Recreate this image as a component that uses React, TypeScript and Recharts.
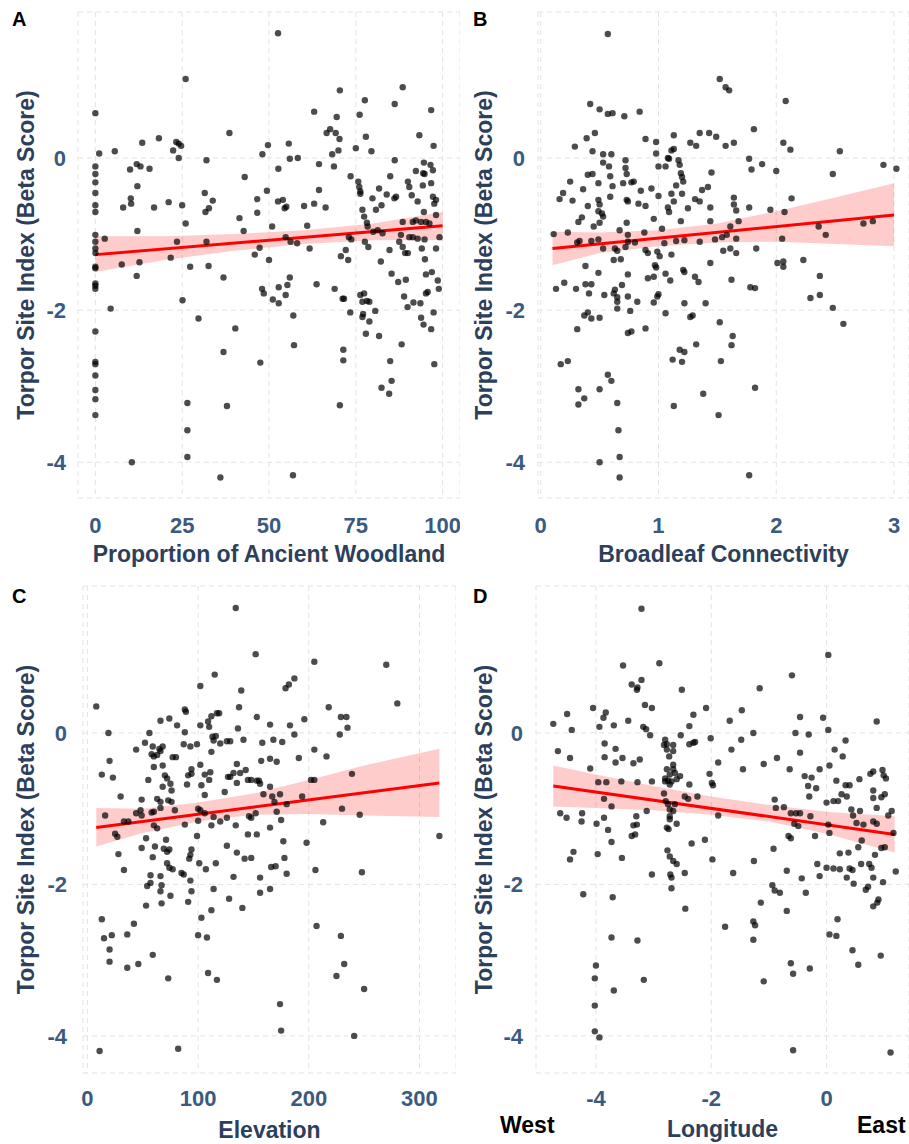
import React from 'react';
import { ComposedChart, Scatter, Line, Area, XAxis, YAxis, CartesianGrid } from 'recharts';

type Pt = [number, number];
type Band = [number, number, number]; // x, lower, upper

// A: proportion of ancient woodland
const woodlandPoints: Pt[] = [
  [0, 0.59], [1.1, 0.06], [0, -0.11], [0, -0.21], [0, -0.32], [0, -0.46], [0, -0.62], [0, -0.71], [0, -1.01], [0, -1.1], [0, -1.19], [0, -1.25], [0, -1.43],
  [5.6, 0.09], [13.5, 0.2], [18.3, 0.26], [23.3, 0.21], [24, 0.19], [24.7, 0.16], [22.4, 0.1], [24, 0], [26, 1.04], [38.6, 0.33],
  [10, -0.15], [11.9, -0.08], [13, -0.11], [15.6, -0.14], [12.1, -0.37], [10.2, -0.53], [10.3, -0.6], [8, -0.65], [16.9, -0.65], [21.1, -0.58], [25, -0.62], [26, -0.86], [12.1, -0.96], [2.7, -1.06], [23.5, -1.1], [32, -1.1],
  [31.5, -0.46], [33.8, -0.56], [32.7, -0.66], [31.7, -0.71], [32, -0.03], [43, -0.25], [49.4, -0.43], [48.1, 0.05], [49.7, 0.17], [41.5, -0.79], [42.7, -0.96], [46.6, -0.54], [46.6, -0.72], [47.3, -1.18], [45.9, -1.27],
  [7.6, -1.4], [12.7, -1.37], [21.7, -1.31], [27.3, -1.43], [32.6, -1.42], [50, -1.34],
  [0, -1.45], [11.9, -1.55], [36.9, -1.57], [0, -1.65], [0, -1.68], [0, -1.72], [48, -1.72], [48.5, -1.78], [4.4, -1.98], [25.1, -1.87], [0, -2.28], [29.7, -2.11], [40.3, -2.24], [36.9, -2.55], [47.5, -2.69],
  [0, -2.68], [0, -2.71], [0, -2.86], [0, -3.05], [0, -3.17], [0, -3.38], [26.5, -3.22], [37.9, -3.26], [26.5, -3.58], [26.5, -3.93], [10.5, -4.0], [36, -4.2],
  [52.6, 1.64], [52.7, -0.14], [52.6, -0.57], [54, -0.55], [54.5, -0.66], [55, -0.64], [55.7, 0.19], [56, -0.01], [58.3, 0], [50.9, -0.9], [54.8, -1.04], [56.2, -1.1], [58.1, -1.12], [61, -0.89], [61.7, -1.19],
  [60.1, -0.63], [63, -0.6], [66.3, -0.65], [64.4, -0.42], [64.4, -0.08], [63, 0.61], [66.6, 0.33], [67.6, 0.38], [69.2, 0.33], [70.3, 0.25], [69.5, 0.54], [70.4, 0.89], [68.2, 0.05], [70, 0.1], [68.7, -0.11],
  [73.5, -0.24], [75.7, -0.31], [76, -0.38], [76.3, -0.44], [76.3, -0.47], [75, 0.13], [76.1, 0.57], [77.6, 0.76], [77.9, 0.28], [79.5, 0.09], [76.9, -0.68], [77.4, -0.77], [78.2, -0.85], [78.4, -0.9],
  [79.8, -0.53], [80.8, -0.68], [82.4, -0.62], [81.7, -0.4], [83.9, -0.48], [86.1, -0.53], [86.6, -0.51], [84.9, -0.24], [86.2, -0.03], [86.2, 0.71], [88.5, 0.93], [90, -0.31], [90.4, -0.38], [91.1, -0.49], [92.8, -0.57],
  [92.3, -0.17], [93.3, 0.3], [94.6, -0.06], [94.8, -0.21], [94.4, -0.2], [96.5, -0.09], [97.2, -0.16], [96.7, 0.63], [97.4, 0.16], [96.7, -0.33], [94.3, -0.36], [97.2, -0.51], [97.6, -0.6], [98.1, -0.55], [94.6, -0.71],
  [88.5, -0.84], [91.4, -0.84], [92.3, -0.82], [93.8, -0.84], [95.2, -0.84], [96.2, -0.86], [98.1, -0.75], [88, -1.01], [90.4, -1.04], [91.4, -1.04], [92.8, -1.06], [94.8, -1.07], [99.1, -1.04],
  [87.5, -1.1], [88.5, -1.17], [89.2, -1.25], [90, -1.25], [84.7, -1.21], [94, -1.19], [94.9, -1.33], [98.1, -1.19], [82.2, -1.36], [70.7, -1.29], [72.1, -1.21], [72.8, -1.34], [73, -1.04], [73.7, -1.07],
  [77.6, -1.1], [78.6, -1.17], [80, -0.97], [81.3, -0.95], [82.7, -0.99],
  [51.1, -1.86], [52.8, -1.91], [52.8, -1.7], [54.8, -1.8], [55.3, -1.67], [56, -1.57], [57, -2.07], [57.2, -2.46], [63.7, -1.66], [68.9, -1.72], [71.2, -1.85], [71.6, -1.85], [73.4, -2.03], [71.4, -2.52], [71.4, -2.66], [70.4, -3.25],
  [76.3, -1.8], [77.4, -1.78], [76.9, -1.89], [78.2, -1.88], [78.9, -1.89], [76.9, -2.09], [77.1, -2.05], [78.9, -2.15], [77.9, -2.31], [80.6, -2.01], [81.7, -2.34],
  [85.3, -1.52], [87.2, -1.63], [89.4, -1.6], [88.9, -1.82], [89.9, -1.96], [91.6, -1.9], [93.6, -1.91], [88.2, -2.45], [84.9, -2.67], [85.3, -2.93], [82.4, -3.02], [84.6, -3.1],
  [93.8, -2.1], [94.5, -2.19], [96.7, -2.25], [97.4, -2.03], [95.2, -1.78], [95.7, -1.76], [95.2, -1.53], [96.9, -1.5], [98.6, -1.61], [98.9, -1.72], [97.6, -2.71], [56.9, -4.17],
];
const woodlandFit: Pt[] = [[0, -1.27], [100, -0.89]];
const woodlandBand: Band[] = [
  [0, -1.5, -1.03], [20, -1.34, -1.03], [40, -1.22, -1.0], [60, -1.13, -0.95], [80, -1.08, -0.86], [100, -1.08, -0.71],
];

// B: broadleaf connectivity
const connectivityPoints: Pt[] = [
  [0.57, 1.63], [1.52, 1.04], [1.57, 0.93], [1.6, 0.89], [2.08, 0.75], [0.42, 0.71], [0.5, 0.64], [0.57, 0.58], [0.61, 0.59], [0.71, 0.55], [0.84, 0.61], [1.81, 0.38],
  [0.39, 0.26], [0.46, 0.33], [0.29, 0.15], [0.44, 0.09], [0.53, 0.05], [0.6, 0.05], [0.89, 0.25], [0.98, 0.21], [0.98, 0.06], [1.13, 0.3], [1.13, 0.12], [1.11, 0.1], [1.08, 0], [1.09, -0.01],
  [1.27, 0.2], [1.32, 0.16], [1.35, 0.33], [1.43, 0.33], [1.49, 0.28], [1.57, 0.16], [1.64, 0.2], [2.06, 0.2], [2.12, 0.11], [2.54, 0.09], [1.77, -0.01], [1.79, -0.15], [1.88, -0.08], [2.0, -0.17], [2.48, -0.21], [2.91, -0.09], [3.02, -0.14],
  [0.53, -0.06], [0.58, -0.11], [0.59, -0.24], [0.72, -0.03], [0.72, -0.13], [0.73, -0.21], [0.4, -0.22], [0.44, -0.21], [0.25, -0.31], [0.49, -0.33], [0.36, -0.41], [0.19, -0.46], [0.16, -0.54], [0.27, -0.56],
  [0.61, -0.37], [0.7, -0.33], [0.77, -0.32], [0.79, -0.31], [0.85, -0.43], [0.59, -0.51], [0.49, -0.55], [0.5, -0.61], [0.4, -0.63], [0.49, -0.7], [0.52, -0.73], [0.73, -0.55], [0.74, -0.57], [0.83, -0.6], [0.89, -0.63],
  [0.94, -0.4], [1.0, -0.5], [1.0, -0.11], [1.06, -0.11], [1.17, -0.03], [1.18, -0.09], [1.19, -0.2], [1.2, -0.25], [1.21, -0.31], [1.2, -0.47], [1.15, -0.36], [1.11, -0.47], [1.13, -0.57], [1.08, -0.65], [1.09, -0.71],
  [1.25, -0.66], [1.31, -0.54], [1.35, -0.57], [1.37, -0.42], [1.42, -0.38], [1.45, -0.19], [1.44, -0.65], [1.64, -0.52], [1.64, -0.61], [1.66, -0.69], [1.77, -0.65], [1.95, -0.68], [2.07, -0.71], [2.13, -0.53],
  [1.44, -0.83], [1.61, -0.9], [1.68, -0.83], [1.19, -0.83], [0.96, -0.8], [1.03, -0.93], [0.73, -0.85], [0.67, -0.95], [0.74, -1.01], [0.5, -0.85], [0.53, -0.77], [0.32, -0.84], [0.35, -0.78], [0.45, -0.9],
  [0.11, -1.0], [0.23, -0.98], [0.31, -1.11], [0.33, -1.09], [0.43, -1.09], [0.49, -1.07], [0.53, -1.19], [0.63, -1.19], [0.65, -1.22], [0.72, -1.17], [0.74, -1.1], [0.8, -1.11], [0.88, -0.98],
  [0.89, -1.21], [0.91, -1.25], [0.99, -1.23], [1.01, -1.29], [1.05, -1.12], [1.11, -1.27], [1.15, -1.09], [1.22, -1.08], [1.35, -1.1], [1.48, -1.07], [1.54, -1.04], [1.58, -1.01], [1.66, -1.06],
  [1.55, -1.22], [1.61, -1.19], [1.66, -1.25], [1.83, -1.19], [2.05, -1.06], [2.36, -0.9], [2.42, -1.01], [2.74, -0.86], [2.82, -0.83],
  [0.38, -1.42], [0.62, -1.34], [0.68, -1.33], [0.97, -1.41], [0.98, -1.44], [1.21, -1.47], [1.44, -1.38], [2.01, -1.38], [2.06, -1.36], [2.06, -1.43], [2.23, -1.34],
  [0.13, -1.72], [0.2, -1.64], [0.3, -1.72], [0.38, -1.66], [0.43, -1.66], [0.49, -1.51], [0.41, -1.78], [0.54, -1.8], [0.62, -1.78], [0.63, -1.73], [0.65, -1.83], [0.65, -1.89], [0.65, -1.98], [0.69, -1.67],
  [0.74, -1.53], [0.74, -1.82], [0.76, -2.01], [0.82, -1.89], [0.37, -2.07], [0.4, -2.03], [0.43, -2.11], [0.5, -2.1], [0.31, -2.25], [0.74, -2.3], [0.77, -2.28], [0.89, -2.24], [0.91, -1.58], [0.96, -1.56],
  [0.96, -1.9], [0.99, -1.82], [1.0, -1.79], [1.06, -1.52], [1.1, -1.61], [1.06, -2.04], [1.22, -1.5], [1.31, -1.56], [1.34, -1.63], [1.22, -1.91], [1.4, -1.91], [1.27, -2.09], [1.29, -2.07], [1.32, -2.45],
  [1.18, -2.52], [1.22, -2.55], [1.12, -2.65], [1.2, -2.68], [1.13, -3.26], [1.38, -3.1], [1.51, -3.38], [1.52, -2.16], [1.53, -2.67], [1.62, -1.6], [1.63, -2.34], [1.62, -2.46], [1.78, -1.7], [1.82, -1.71],
  [1.82, -3.02], [1.77, -4.17], [2.37, -1.55], [2.37, -1.8], [2.29, -1.84], [2.48, -1.97], [2.57, -2.18], [0.17, -2.71], [0.23, -2.67], [0.32, -3.04], [0.37, -3.16], [0.32, -3.24], [0.5, -3.04],
  [0.57, -2.85], [0.6, -2.93], [0.65, -3.22], [0.66, -3.58], [0.67, -3.93], [0.67, -4.2], [0.5, -4.0],
];
const connectivityFit: Pt[] = [[0.1, -1.19], [3.0, -0.75]];
const connectivityBand: Band[] = [
  [0.1, -1.41, -0.97], [0.5, -1.25, -0.98], [1.0, -1.16, -0.95], [1.5, -1.11, -0.86], [2.0, -1.1, -0.7], [2.5, -1.13, -0.52], [3.0, -1.16, -0.33],
];

// C: elevation
const elevationPoints: Pt[] = [
  [134, 1.65], [152, 1.04], [205, 0.94], [270, 0.9], [115, 0.77], [102, 0.62], [139, 0.56], [179, 0.59], [182, 0.64], [187, 0.72], [8, 0.35], [137, 0.34], [218, 0.34], [280, 0.39],
  [88, 0.31], [89, 0.28], [112, 0.22], [117, 0.26], [119, 0.26], [153, 0.21], [66, 0.16], [74, 0.19], [81, 0.1], [102, 0.1], [109, 0.15], [110, 0.08], [136, 0.06], [165, 0.11], [183, 0.1], [196, 0.18],
  [229, 0.21], [234, 0.21], [235, 0.07], [228, -0.02], [19, 0], [56, 0], [88, 0.01], [113, -0.05], [114, -0.1], [116, -0.04], [120, -0.14], [126, -0.11], [129, -0.11], [141, -0.09], [158, -0.13],
  [168, -0.09], [176, -0.12], [187, -0.02], [52, -0.13], [44, -0.22], [59, -0.18], [65, -0.21], [68, -0.18], [66, -0.24], [87, -0.15], [93, -0.18], [99, -0.15], [58, -0.28], [60, -0.31], [63, -0.29],
  [77, -0.32], [80, -0.32], [112, -0.25], [205, -0.22], [216, -0.31], [191, -0.33], [20, -0.37], [13, -0.55], [23, -0.59], [60, -0.45], [68, -0.43], [55, -0.62], [70, -0.56], [72, -0.6], [75, -0.67],
  [68, -0.71], [76, -0.76], [94, -0.48], [94, -0.54], [91, -0.56], [90, -0.68], [102, -0.42], [106, -0.55], [111, -0.52], [110, -0.62], [103, -0.69], [106, -0.82], [127, -0.58], [129, -0.58], [132, -0.53],
  [135, -0.41], [135, -0.66], [138, -0.53], [143, -0.49], [145, -0.62], [148, -0.62], [153, -0.63], [155, -0.63], [156, -0.67], [157, -0.37], [165, -0.34], [171, -0.38], [165, -0.71], [124, -0.78],
  [159, -0.81], [167, -0.84], [174, -0.81], [202, -0.62], [205, -0.62], [239, -0.54], [30, -0.84], [49, -0.88], [63, -0.87], [66, -0.91], [73, -0.89], [76, -0.91], [44, -1.06], [48, -1.02], [58, -1.05],
  [60, -1.04], [66, -0.99], [79, -1.02], [100, -1.0], [102, -1.02], [106, -1.06], [114, -1.11], [120, -1.17], [126, -1.12], [134, -1.22], [146, -1.1], [148, -1.12], [152, -1.06], [169, -0.91],
  [171, -1.04], [175, -1.15], [180, -0.94], [165, -1.25], [194, -0.84], [230, -1.0], [246, -1.08], [213, -1.18], [16, -1.09], [33, -1.17], [37, -1.17], [49, -1.09], [60, -1.22], [63, -1.26],
  [25, -1.33], [27, -1.37], [88, -1.21], [100, -1.16], [99, -1.36], [112, -1.22], [145, -1.34], [153, -1.34], [53, -1.39], [71, -1.41], [49, -1.52], [61, -1.5], [69, -1.53], [74, -1.54], [28, -1.6],
  [59, -1.64], [72, -1.57], [94, -1.54], [93, -1.61], [92, -1.66], [126, -1.49], [135, -1.58], [142, -1.66], [148, -1.65], [177, -1.43], [178, -1.65], [198, -1.45], [318, -1.36], [33, -1.81],
  [57, -1.88], [66, -1.89], [72, -1.72], [74, -1.78], [77, -1.8], [85, -1.85], [87, -1.87], [101, -1.72], [107, -1.8], [116, -1.72], [132, -1.9], [156, -1.91], [166, -1.77], [170, -1.76], [180, -1.86],
  [206, -1.81], [248, -1.84], [57, -1.98], [54, -2.02], [67, -2.01], [66, -2.09], [53, -2.28], [67, -2.25], [75, -2.15], [93, -1.95], [94, -2.09], [91, -2.23], [114, -2.06], [156, -2.11], [165, -2.06],
  [128, -2.19], [140, -2.31], [112, -2.34], [103, -2.44], [100, -2.67], [108, -2.7], [13, -2.46], [42, -2.52], [15, -2.71], [22, -2.67], [36, -2.66], [20, -2.86], [20, -3.02], [36, -3.1], [46, -3.05],
  [59, -2.93], [73, -3.24], [109, -3.17], [117, -3.26], [207, -2.55], [229, -2.68], [232, -3.05], [225, -3.21], [250, -3.38], [174, -3.58], [175, -3.93], [241, -4.0], [11, -4.2], [82, -4.17],
];
const elevationFit: Pt[] = [[8, -1.25], [318, -0.66]];
const elevationBand: Band[] = [
  [8, -1.5, -0.99], [50, -1.32, -1.0], [100, -1.17, -0.92], [150, -1.08, -0.8], [200, -1.07, -0.62], [250, -1.09, -0.43], [318, -1.11, -0.21],
];

// D: longitude
const longitudePoints: Pt[] = [
  [-3.21, 1.64], [0.03, 1.03], [-3.53, 0.89], [-2.9, 0.92], [-0.6, 0.76], [-3.38, 0.64], [-3.29, 0.57], [-3.28, 0.6], [-3.21, 0.7], [-2.51, 0.57], [-1.16, 0.59], [-4.5, 0.25], [-4.05, 0.33],
  [-3.15, 0.37], [-3.03, 0.33], [-2.09, 0.33], [-1.47, 0.3], [-1.68, 0.16], [-3.83, 0.27], [-3.87, 0.2], [-3.44, 0.16], [-2.31, 0.24], [-0.46, 0.21], [-0.06, 0.2], [0.87, 0.15], [-4.74, 0.12],
  [-4.42, 0.04], [-3.94, 0.08], [-3.69, 0.1], [-3.18, 0.08], [-3.13, 0.05], [-3.06, -0.03], [-2.38, 0.09], [-2.53, -0.03], [-2.01, -0.07], [-1.48, -0.09], [-1.27, 0], [-0.54, 0], [-0.31, -0.02],
  [0.03, 0.04], [0.33, -0.1], [-4.66, -0.24], [-4.45, -0.33], [-3.85, -0.14], [-3.66, -0.21], [-3.85, -0.32], [-3.66, -0.39], [-3.54, -0.33], [-3.35, -0.4], [-3.24, -0.35],
  [-2.8, -0.09], [-2.77, -0.15], [-2.82, -0.16], [-2.66, -0.16], [-2.77, -0.22], [-2.66, -0.24], [-2.73, -0.31], [-2.66, -0.42], [-2.72, -0.55], [-2.63, -0.53], [-2.8, -0.6], [-2.75, -0.63],
  [-2.69, -0.64], [-2.8, -0.64], [-2.72, -0.68], [-2.6, -0.61], [-2.54, -0.57], [-2.77, -0.48], [-2.66, -0.48], [-2.38, -0.15], [-2.31, -0.13], [-2.28, -0.12], [-1.88, -0.39], [-1.65, -0.22],
  [-1.45, -0.48], [-1.09, -0.41], [-0.86, -0.33], [-0.64, -0.48], [-0.46, -0.26], [-0.12, -0.48], [0.05, -0.43], [0.14, -0.22], [0.28, -0.31], [-0.38, -0.57], [-0.26, -0.59], [-0.32, -0.7],
  [-0.18, -0.73], [-0.3, -0.84], [0.17, -0.63], [0.33, -0.69], [0.4, -0.69], [0.57, -0.61], [0.76, -0.54], [0.81, -0.51], [0.97, -0.49], [0.99, -0.56], [1.03, -0.6], [0.81, -0.76], [1.01, -0.81],
  [0.95, -0.85], [0.81, -0.86], [0.87, -0.99], [0, -0.92], [0.12, -0.9], [0.2, -0.9], [0.26, -0.81], [0.35, -0.84], [0.43, -1.01], [0.58, -1.03], [1.07, -1.09], [1.13, -1.03], [0.46, -1.09],
  [0.52, -1.19], [0.81, -1.17], [0.87, -1.2], [0.64, -1.21], [1.16, -1.32], [0.61, -1.42], [0.55, -1.51], [0.95, -1.52], [1.01, -1.51], [0.23, -1.59], [0.38, -1.58], [0.84, -1.61], [-0.16, -1.73],
  [0, -1.78], [0.12, -1.79], [0.23, -1.8], [0.4, -1.79], [0.45, -1.81], [0.6, -1.73], [0.74, -1.73], [0.78, -1.78], [1.2, -1.83], [-0.9, -0.88], [-0.88, -0.99], [-0.74, -0.98], [-0.62, -1.06],
  [-0.53, -1.06], [-0.46, -1.06], [-0.49, -1.23], [-0.56, -1.2], [-0.28, -1.1], [-0.2, -1.36], [-0.66, -1.36], [-0.62, -1.39], [0.03, -1.21], [0.05, -1.32], [-0.92, -1.53], [-0.69, -1.82],
  [-1.26, -1.69], [-1.62, -1.85], [-1.88, -1.09], [-2.11, -1.41], [-1.98, -1.67], [-2.34, -1.46], [-2.38, -0.68], [-2.24, -0.84], [-2.46, -0.84], [-2.4, -0.87], [-2.03, -0.54], [-1.99, -0.66],
  [-1.97, -0.69], [-2.82, -0.8], [-2.79, -0.9], [-2.75, -0.94], [-2.72, -1.01], [-2.66, -1.03], [-2.63, -0.94], [-2.72, -1.1], [-2.72, -1.14], [-2.6, -1.2], [-2.77, -1.25], [-2.74, -1.27],
  [-2.76, -1.55], [-2.72, -1.63], [-2.66, -1.69], [-2.6, -1.73], [-3.03, -1.87], [-2.71, -1.87], [-2.69, -1.91], [-2.46, -1.85], [-3.12, -1.03], [-3.3, -1.1], [-3.29, -1.21], [-3.38, -1.36],
  [-3.32, -1.34], [-3.35, -1.22], [-3.55, -1.65], [-3.73, -1.44], [-3.79, -1.28], [-3.86, -0.87], [-3.86, -1.12], [-3.99, -1.2], [-3.96, -0.65], [-3.82, -0.65], [-3.73, -0.97], [-3.56, -0.64],
  [-3.28, -0.65], [-3.03, -0.64], [-4.1, -0.47], [-4.62, -1.06], [-4.51, -1.12], [-4.24, -1.06], [-4.25, -1.17], [-3.97, -1.6], [-4.39, -1.57], [-4.45, -1.67],
  [-2.69, -2.05], [-2.45, -2.32], [-4.22, -2.13], [-3.71, -2.17], [-3.73, -2.7], [-3.28, -2.74], [-4.0, -3.07], [-4.02, -3.24], [-3.69, -3.4], [-4.02, -3.6], [-4.02, -3.94], [-3.94, -4.02],
  [-3.17, -3.26], [-1.76, -2.56], [-1.27, -2.49], [-1.24, -2.54], [-1.27, -2.73], [-1.14, -2.24], [-1.09, -3.28], [-0.94, -2.01], [-0.9, -2.08], [-0.81, -2.11], [-0.69, -2.35], [-0.43, -1.92],
  [-0.36, -2.11], [-0.12, -1.89], [-0.62, -3.04], [-0.58, -3.18], [-0.29, -3.11], [-0.58, -4.19], [0.05, -2.66], [0.17, -2.68], [0.19, -2.46], [0.35, -1.91], [0.47, -1.99], [0.68, -2.07],
  [0.72, -2.03], [0.81, -1.91], [0.98, -1.97], [0.81, -2.29], [0.88, -2.24], [0.9, -2.2], [0.45, -2.87], [0.55, -3.06], [0.94, -2.94], [1.11, -4.22],
];
const longitudeFit: Pt[] = [[-4.74, -0.7], [1.18, -1.34]];
const longitudeBand: Band[] = [
  [-4.74, -0.97, -0.43], [-4, -0.99, -0.55], [-3, -1.02, -0.7], [-2, -1.08, -0.84], [-1, -1.17, -0.95], [0, -1.33, -1.04], [1.18, -1.58, -1.1],
];

const yTicks = [-4, -2, 0];
const Y_TITLE = 'Torpor Site Index (Beta Score)';

const FONT = '"Liberation Sans", Arial, Helvetica, sans-serif';
const TICK_COLOUR = '#3a5a80';
const TITLE_COLOUR = '#2c405c';

const Dot = (props: any) => (
  <circle cx={props.cx} cy={props.cy} r={3.2} fill="#000" fillOpacity={0.7} />
);

interface PanelProps {
  left: number;
  top: number;
  width: number;
  height: number;
  marginTop: number;
  yAxisWidth: number;
  xAxisHeight: number;
  xDomain: [number, number];
  yDomain: [number, number];
  xTicks: number[];
  xTitle: string;
  xTickMargin: number;
  yTickMargin: number;
  xTitleOffset: number;
  yTitleOffset: number;
  points: Pt[];
  fit: Pt[];
  band: Band[];
}

function Panel(p: PanelProps) {
  const pts = p.points.map(([x, y]) => ({ x, y }));
  const fit = p.fit.map(([x, y]) => ({ x, y }));
  const band = p.band.map(([x, lo, hi]) => ({ x, band: [lo, hi] }));
  const tickStyle = { fill: TICK_COLOUR, fontSize: 22, fontWeight: 700, fontFamily: FONT };
  const titleStyle = { fill: TITLE_COLOUR, fontSize: 23, fontWeight: 700, fontFamily: FONT };

  return (
    <div style={{ position: 'absolute', left: p.left, top: p.top }}>
      <ComposedChart
        width={p.width}
        height={p.height}
        margin={{ top: p.marginTop, right: 0, bottom: 0, left: 0 }}
      >
        <CartesianGrid stroke="#e3e3e3" strokeDasharray="5 4" />
        <XAxis
          type="number"
          dataKey="x"
          domain={p.xDomain}
          ticks={p.xTicks}
          interval={0}
          allowDataOverflow
          axisLine={false}
          tickLine={false}
          tickSize={0}
          tickMargin={p.xTickMargin}
          height={p.xAxisHeight}
          tick={tickStyle}
          label={{ value: p.xTitle, position: 'insideBottom', offset: p.xTitleOffset, style: titleStyle }}
        />
        <YAxis
          type="number"
          domain={p.yDomain}
          ticks={yTicks}
          interval={0}
          allowDataOverflow
          axisLine={false}
          tickLine={false}
          tickSize={0}
          tickMargin={p.yTickMargin}
          width={p.yAxisWidth}
          tick={tickStyle}
          label={{
            value: Y_TITLE,
            angle: -90,
            position: 'insideLeft',
            offset: p.yTitleOffset,
            style: { ...titleStyle, textAnchor: 'middle' },
          }}
        />
        <Scatter data={pts} dataKey="y" shape={Dot} isAnimationActive={false} />
        <Area
          data={band}
          dataKey="band"
          type="linear"
          stroke="none"
          fill="#ff0000"
          fillOpacity={0.2}
          isAnimationActive={false}
        />
        <Line
          data={fit}
          dataKey="y"
          type="linear"
          stroke="#ff0000"
          strokeWidth={3}
          dot={false}
          isAnimationActive={false}
        />
      </ComposedChart>
    </div>
  );
}

export default function App() {
  const letterStyle = { fontFamily: FONT, fontWeight: 700, fontSize: 20, fill: '#000' };
  const compassStyle = { fontFamily: FONT, fontWeight: 700, fontSize: 23, fill: '#000' };
  return (
    <div style={{ position: 'absolute', left: 0, top: 0, width: 909, height: 1144, background: '#fff', overflow: 'hidden' }}>
      <Panel
        left={0} top={0} width={460} height={580} marginTop={12}
        yAxisWidth={78} xAxisHeight={82}
        xDomain={[-5, 105]} yDomain={[-4.47, 1.92]} xTicks={[0, 25, 50, 75, 100]}
        xTitle="Proportion of Ancient Woodland"
        xTickMargin={19} yTickMargin={12} xTitleOffset={18} yTitleOffset={26}
        points={woodlandPoints} fit={woodlandFit} band={woodlandBand}
      />
      <Panel
        left={460} top={0} width={449} height={580} marginTop={12}
        yAxisWidth={78} xAxisHeight={82}
        xDomain={[-0.023, 3.127]} yDomain={[-4.47, 1.92]} xTicks={[0, 1, 2, 3]}
        xTitle="Broadleaf Connectivity"
        xTickMargin={19} yTickMargin={13} xTitleOffset={18} yTitleOffset={24}
        points={connectivityPoints} fit={connectivityFit} band={connectivityBand}
      />
      <Panel
        left={0} top={580} width={456} height={564} marginTop={6}
        yAxisWidth={83} xAxisHeight={71}
        xDomain={[-4, 333]} yDomain={[-4.49, 1.94]} xTicks={[0, 100, 200, 300]}
        xTitle="Elevation"
        xTickMargin={17} yTickMargin={16} xTitleOffset={6} yTitleOffset={26}
        points={elevationPoints} fit={elevationFit} band={elevationBand}
      />
      <Panel
        left={460} top={580} width={449} height={564} marginTop={6}
        yAxisWidth={76} xAxisHeight={71}
        xDomain={[-5.04, 1.43]} yDomain={[-4.49, 1.94]} xTicks={[-4, -2, 0]}
        xTitle="Longitude"
        xTickMargin={17} yTickMargin={13} xTitleOffset={7} yTitleOffset={24}
        points={longitudePoints} fit={longitudeFit} band={longitudeBand}
      />
      <svg width={909} height={1144} style={{ position: 'absolute', left: 0, top: 0, pointerEvents: 'none' }}>
        <text x={12} y={26} style={letterStyle}>A</text>
        <text x={473} y={26} style={letterStyle}>B</text>
        <text x={12} y={603} style={letterStyle}>C</text>
        <text x={473} y={603} style={letterStyle}>D</text>
        <text x={500} y={1133} style={compassStyle}>West</text>
        <text x={857} y={1133} style={compassStyle}>East</text>
      </svg>
    </div>
  );
}
